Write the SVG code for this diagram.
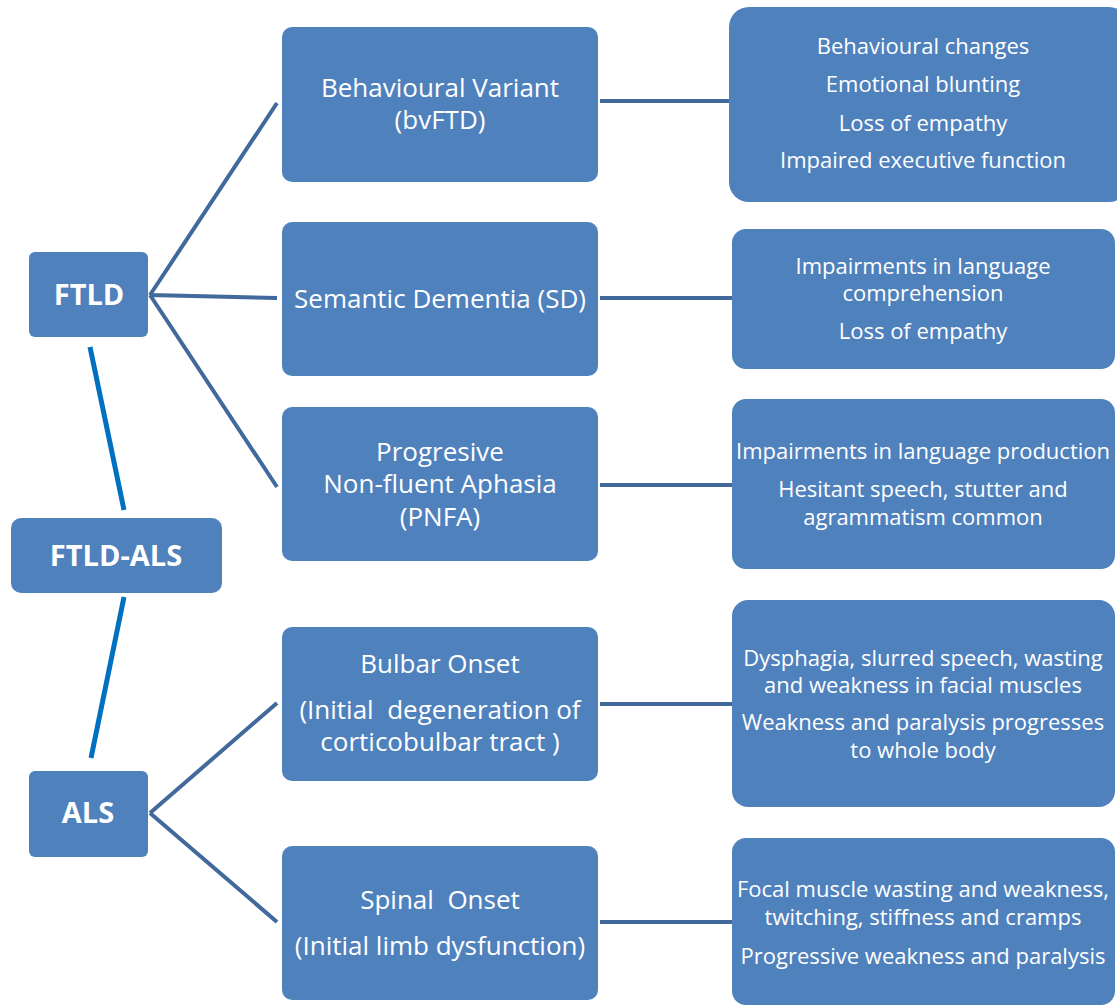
<svg xmlns="http://www.w3.org/2000/svg" width="1117" height="1007" viewBox="0 0 1117 1007">
<style>
.n{fill:#4f81bd;}
.t{fill:#fff;font-family:"Open Sans","Noto Sans",sans-serif;text-anchor:middle;}
.m{font-size:26px;}
.r{font-size:22px;}
.b{font-size:29px;font-weight:bold;}
.c{stroke:#41699c;stroke-width:4;fill:none;}
.d{stroke:#0070c0;stroke-width:5;fill:none;}
</style>
<rect width="1117" height="1007" fill="#fff"/>
<g id="connectors">
<path class="c" d="M150,295 L277,103 M150,295 L277,298 M150,295 L277,487 M150,813 L277,703 M150,813 L277,922"/>
<path class="c" d="M600,101 H729 M600,298 H732 M600,485 H732 M600,704 H732 M600,922 H732"/>
<path class="d" d="M90,347 L124,510 M124,597 L91,758"/>
</g>
<g id="ftld"><rect class="n" x="29" y="252" width="119" height="85" rx="6"/><text class="t b" x="89" y="305">FTLD</text></g>
<g id="ftld-als"><rect class="n" x="11" y="518" width="211" height="75" rx="10"/><text class="t b" x="116" y="566">FTLD-ALS</text></g>
<g id="als"><rect class="n" x="29" y="771" width="119" height="86" rx="6"/><text class="t b" x="88" y="823">ALS</text></g>
<g id="bvftd"><rect class="n" x="282" y="27" width="316" height="155" rx="10"/><text class="t m" x="440" y="97">Behavioural Variant</text><text class="t m" x="440" y="129">(bvFTD)</text></g>
<g id="sd"><rect class="n" x="282" y="222" width="316" height="154" rx="10"/><text class="t m" x="440" y="308">Semantic Dementia (SD)</text></g>
<g id="pnfa"><rect class="n" x="282" y="407" width="316" height="154" rx="10"/><text class="t m" x="440" y="461">Progresive</text><text class="t m" x="440" y="493">Non-fluent Aphasia</text><text class="t m" x="440" y="526">(PNFA)</text></g>
<g id="bulbar"><rect class="n" x="282" y="627" width="316" height="154" rx="10"/><text class="t m" x="440" y="673">Bulbar Onset</text><text class="t m" x="440" y="719" xml:space="preserve">(Initial  degeneration of</text><text class="t m" x="440" y="751">corticobulbar tract )</text></g>
<g id="spinal"><rect class="n" x="282" y="846" width="316" height="154" rx="10"/><text class="t m" x="440" y="909" xml:space="preserve">Spinal  Onset</text><text class="t m" x="440" y="955">(Initial limb dysfunction)</text></g>
<g id="r1"><rect class="n" x="729" y="7" width="400" height="195" rx="20"/><text class="t r" x="923" y="54">Behavioural changes</text><text class="t r" x="923" y="92">Emotional blunting</text><text class="t r" x="923" y="131">Loss of empathy</text><text class="t r" x="923" y="168">Impaired executive function</text></g>
<g id="r2"><rect class="n" x="732" y="229" width="383" height="140" rx="14"/><text class="t r" x="923" y="274">Impairments in language</text><text class="t r" x="923" y="301">comprehension</text><text class="t r" x="923" y="339">Loss of empathy</text></g>
<g id="r3"><rect class="n" x="732" y="399" width="383" height="170" rx="14"/><text class="t r" x="923" y="459">Impairments in language production</text><text class="t r" x="923" y="497">Hesitant speech, stutter and</text><text class="t r" x="923" y="525">agrammatism common</text></g>
<g id="r4"><rect class="n" x="732" y="600" width="383" height="207" rx="16"/><text class="t r" x="923" y="666">Dysphagia, slurred speech, wasting</text><text class="t r" x="923" y="693">and weakness in facial muscles</text><text class="t r" x="923" y="730">Weakness and paralysis progresses</text><text class="t r" x="923" y="758">to whole body</text></g>
<g id="r5"><rect class="n" x="732" y="838" width="383" height="167" rx="14"/><text class="t r" x="923" y="897">Focal muscle wasting and weakness,</text><text class="t r" x="923" y="925">twitching, stiffness and cramps</text><text class="t r" x="923" y="964">Progressive weakness and paralysis</text></g>
</svg>
